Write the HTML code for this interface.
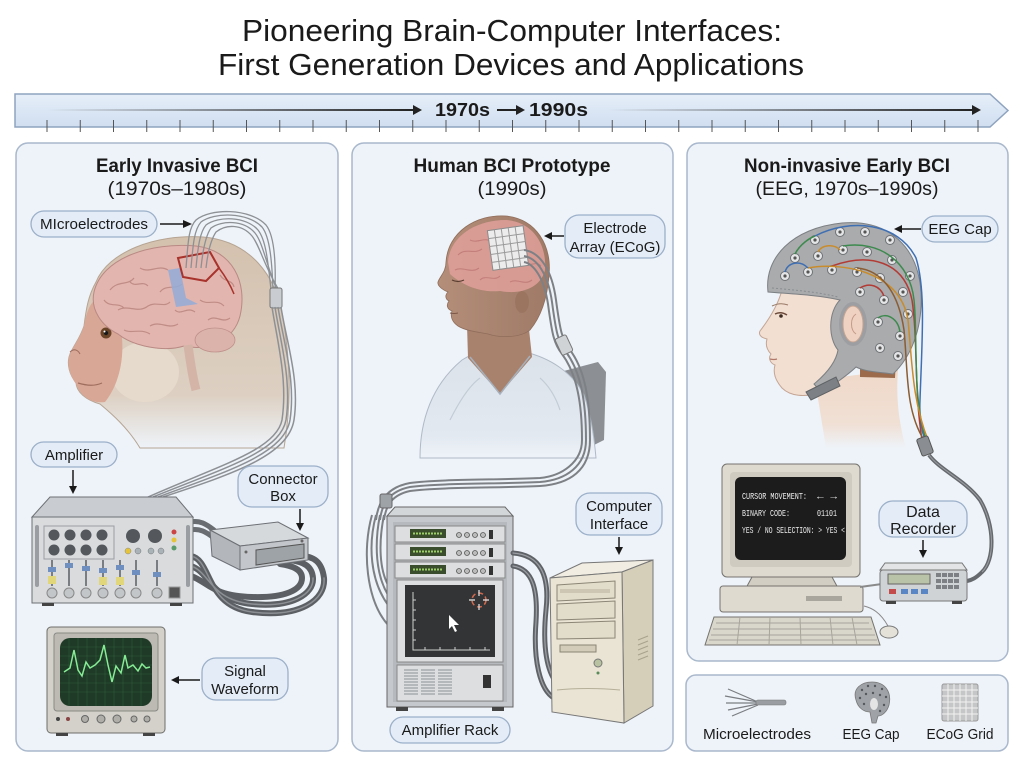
<!DOCTYPE html>
<html><head><meta charset="utf-8"><style>
html,body{margin:0;padding:0;background:#fff;}
svg{display:block;}
text{font-family:"Liberation Sans",Arial,sans-serif;fill:#1a1a1a;}
.lbl{font-size:15px;}
.mono{font-family:"Liberation Mono",monospace;fill:#ececec;font-size:9px;}
</style></head><body>
<svg width="1024" height="765" viewBox="0 0 1024 765" xmlns="http://www.w3.org/2000/svg">
<defs>
<linearGradient id="band" x1="0" y1="0" x2="0" y2="1"><stop offset="0" stop-color="#e6eff9"/><stop offset="1" stop-color="#d0def0"/></linearGradient>
<linearGradient id="fadeL" x1="0" x2="1"><stop offset="0" stop-color="#222" stop-opacity="0"/><stop offset="1" stop-color="#222"/></linearGradient>
<linearGradient id="fur" x1="0" y1="0" x2="0" y2="1"><stop offset="0" stop-color="#d4c1ae"/><stop offset="0.75" stop-color="#ddd0c2"/><stop offset="1" stop-color="#eef3f9"/></linearGradient>
<linearGradient id="gown" x1="0" y1="0" x2="0" y2="1"><stop offset="0" stop-color="#dbe2ea"/><stop offset="0.8" stop-color="#e3e9f0"/><stop offset="1" stop-color="#eef3f9"/></linearGradient>
<linearGradient id="neck3" x1="0" y1="0" x2="0" y2="1"><stop offset="0" stop-color="#efd8c8"/><stop offset="0.7" stop-color="#f0e0d5"/><stop offset="1" stop-color="#eef3f9"/></linearGradient>
<linearGradient id="skin2" x1="0" y1="0" x2="1" y2="0"><stop offset="0" stop-color="#b48e79"/><stop offset="1" stop-color="#9f7a66"/></linearGradient>
</defs>

<rect width="1024" height="765" fill="#ffffff"/>

<!-- Title -->
<text x="512" y="41" text-anchor="middle" font-size="31" textLength="540" lengthAdjust="spacingAndGlyphs">Pioneering Brain-Computer Interfaces:</text>
<text x="511" y="75" text-anchor="middle" font-size="31" textLength="586" lengthAdjust="spacingAndGlyphs">First Generation Devices and Applications</text>

<!-- Timeline band -->
<polygon points="15,94 990,94 1008,110.5 990,127 15,127" fill="url(#band)" stroke="#8ea3bf" stroke-width="1.5"/>
<rect x="47" y="109" width="368" height="2" fill="url(#fadeL)"/>
<polygon points="413,105 422,110 413,115" fill="#222"/>
<rect x="608" y="109" width="366" height="2" fill="url(#fadeL)"/>
<polygon points="972,105 981,110 972,115" fill="#222"/>
<text x="435" y="116" font-size="18" font-weight="bold" textLength="55" lengthAdjust="spacingAndGlyphs">1970s</text>
<rect x="497" y="109" width="20" height="2" fill="#222"/>
<polygon points="516,105 525,110 516,115" fill="#222"/>
<text x="529" y="116" font-size="18" font-weight="bold" textLength="59" lengthAdjust="spacingAndGlyphs">1990s</text>
<path d="M47,120V132M80.25,120V132M113.5,120V132M146.75,120V132M180,120V132M213.25,120V132M246.5,120V132M279.75,120V132M313,120V132M346.25,120V132M379.5,120V132M412.75,120V132M446,120V132M479.25,120V132M512.5,120V132M545.75,120V132M579,120V132M612.25,120V132M645.5,120V132M678.75,120V132M712,120V132M745.25,120V132M778.5,120V132M811.75,120V132M845,120V132M878.25,120V132M911.5,120V132M944.75,120V132M978,120V132" stroke="#555" stroke-width="1"/>

<!-- Panels -->
<rect x="16" y="143" width="322" height="608" rx="12" fill="#eef3f9" stroke="#a9b8cc" stroke-width="1.5"/>
<rect x="352" y="143" width="321" height="608" rx="12" fill="#eef3f9" stroke="#a9b8cc" stroke-width="1.5"/>
<rect x="687" y="143" width="321" height="518" rx="12" fill="#eef3f9" stroke="#a9b8cc" stroke-width="1.5"/>
<rect x="686" y="675" width="322" height="76" rx="10" fill="#eef3f9" stroke="#a9b8cc" stroke-width="1.5"/>

<!-- Panel titles -->
<text x="177" y="172" text-anchor="middle" font-size="19" font-weight="bold" textLength="162" lengthAdjust="spacingAndGlyphs">Early Invasive BCI</text>
<text x="177" y="195" text-anchor="middle" font-size="19" textLength="139" lengthAdjust="spacingAndGlyphs">(1970s–1980s)</text>
<text x="512" y="172" text-anchor="middle" font-size="19" font-weight="bold" textLength="197" lengthAdjust="spacingAndGlyphs">Human BCI Prototype</text>
<text x="512" y="195" text-anchor="middle" font-size="19" textLength="69" lengthAdjust="spacingAndGlyphs">(1990s)</text>
<text x="847" y="172" text-anchor="middle" font-size="19" font-weight="bold" textLength="206" lengthAdjust="spacingAndGlyphs">Non-invasive Early BCI</text>
<text x="847" y="195" text-anchor="middle" font-size="19" textLength="183" lengthAdjust="spacingAndGlyphs">(EEG, 1970s–1990s)</text>

<!-- ============ PANEL 1 ============ -->
<path d="M96,282 C108,252 155,234 203,237 C250,241 276,275 283,318 C290,360 292,400 284,448 L140,448 C128,428 112,414 100,404 C86,400 76,392 76,382 C70,376 66,364 70,354 C74,345 80,338 84,326 C86,310 88,296 96,282 Z" fill="url(#fur)" stroke="#b6a493" stroke-width="1"/>
<ellipse cx="145" cy="372" rx="34" ry="30" fill="#e6dacd"/>
<path d="M96,300 C110,300 122,318 122,338 C124,362 118,386 105,402 C92,404 80,396 76,384 C70,376 66,364 70,354 C74,345 80,338 84,326 C86,314 90,302 96,300 Z" fill="#d9a796"/>
<path d="M78,383 C88,386 95,386 102,383" stroke="#a06e5e" stroke-width="1.2" fill="none"/>
<path d="M70,352 C74,348 78,350 80,354" stroke="#a06e5e" stroke-width="1" fill="none"/>
<circle cx="106" cy="333" r="5.5" fill="#6a4528"/>
<circle cx="106" cy="333" r="2.2" fill="#1a1a1a"/>
<circle cx="104.5" cy="331.5" r="1" fill="#fff"/>
<path d="M94,292 C102,258 150,242 196,246 C232,250 248,282 240,316 C234,340 208,352 184,346 C165,352 134,347 118,334 C102,326 90,310 94,292 Z" fill="#e2b5ae" stroke="#b98984" stroke-width="1"/>
<ellipse cx="215" cy="340" rx="20" ry="12" fill="#dcb3ab" stroke="#bf918b" stroke-width="0.8"/>
<path d="M188,345 C190,360 192,375 196,390" stroke="#d4b4a7" stroke-width="9" fill="none"/>
<path d="M110,290 c8,-10 18,-4 24,-12 M140,268 c10,6 18,-4 28,2 M118,310 c10,-6 20,4 30,-4 c8,-5 16,2 22,-4 M104,300 c6,8 14,2 20,8 M150,326 c10,-6 18,4 28,-2 M200,300 c8,6 16,-2 24,6 M208,320 c8,-6 14,4 22,-2 M160,292 c6,-8 16,-2 22,-8 M124,330 c8,4 16,-2 26,4 M175,310 c6,6 12,-4 20,2 M220,275 c5,8 12,4 14,12 M130,282 c6,6 12,-2 18,4" stroke="#c08c86" fill="none" stroke-width="1.2"/>
<path d="M168,270 L180,268 L186,298 L198,304 L176,307 Z" fill="#93acd9" opacity="0.85"/>
<path d="M178,258 L210,252 L219,268 L206,281 L183,277 Z" fill="#e2b5ae" stroke="#a8322c" stroke-width="2"/>
<path d="M219,268 C225,276 230,284 234,294" stroke="#a8322c" stroke-width="1.5" fill="none"/>
<g stroke="#8d9196" stroke-width="1.3" fill="none">
<path d="M186,268 C188,245 188,228 196,220 C210,208 250,208 266,225 C274,235 276,260 275,290"/>
<path d="M191,268 C193,245 194,230 201,222 C214,212 248,212 262,227 C270,237 272,262 273,290"/>
<path d="M196,268 C198,246 200,232 206,225 C218,216 246,216 258,230 C266,240 268,262 271,290"/>
<path d="M201,268 C203,248 206,235 211,228 C222,220 244,220 255,233 C263,243 266,264 277,290"/>
<path d="M206,268 C208,250 212,238 216,232 C226,224 242,224 252,236 C260,246 264,266 279,290"/>
</g>
<rect x="270" y="288" width="12" height="20" rx="2" fill="#c9ccd0" stroke="#777"/>
<g stroke="#8d9196" stroke-width="1.5" fill="none">
<path d="M272,307 C277,340 288,380 282,420 C276,450 220,465 148,497"/>
<path d="M275,307 C280,340 292,380 286,420 C280,452 224,468 153,497"/>
<path d="M278,307 C283,340 296,380 290,420 C284,454 228,471 158,497"/>
<path d="M281,307 C286,340 300,380 294,420 C288,456 232,474 163,497"/>
</g>

<g fill="none" stroke-linecap="round">
<path d="M190,522 C200,520 206,524 214,530" stroke="#6a6e72" stroke-width="5"/>
<path d="M190,530 C200,528 206,532 214,538" stroke="#6a6e72" stroke-width="5"/>
<path d="M191,556 C212,560 205,606 252,612 C300,618 326,600 324,578 C322,562 314,556 300,556" stroke="#5c6064" stroke-width="6"/>
<path d="M191,566 C210,572 210,600 252,604 C292,608 314,594 313,578 C312,566 304,562 290,560" stroke="#5c6064" stroke-width="6"/>
<path d="M191,576 C208,582 212,596 252,597 C285,598 302,590 302,578 C302,570 294,566 280,564" stroke="#5c6064" stroke-width="6"/>
<path d="M191,556 C212,560 205,606 252,612 C300,618 326,600 324,578" stroke="#8c9095" stroke-width="1.5"/>
<path d="M191,566 C210,572 210,600 252,604 C292,608 314,594 313,578" stroke="#8c9095" stroke-width="1.5"/>
</g>
<polygon points="210,530 278,522 308,538 240,546" fill="#d6d9dc" stroke="#6d7075"/>
<polygon points="210,530 240,546 240,570 212,556" fill="#b3b7bb" stroke="#6d7075"/>
<polygon points="240,546 308,538 308,560 240,570" fill="#c3c7cb" stroke="#6d7075"/>
<polygon points="256,550 304,544 304,558 256,565" fill="#9ea3a8" stroke="#555"/>
<circle cx="246" cy="552" r="1.5" fill="#666"/><circle cx="302" cy="541" r="1.5" fill="#666"/>

<polygon points="50,497 176,497 193,517 32,517" fill="#c9ccd0" stroke="#6d7075"/>
<rect x="32" y="517" width="161" height="86" fill="#d9dbdd" stroke="#6d7075"/>
<rect x="35" y="525" width="4" height="62" rx="2" fill="#9a9ea2"/>
<rect x="186" y="525" width="4" height="62" rx="2" fill="#9a9ea2"/>
<rect x="44" y="526" width="70" height="33" fill="none" stroke="#9a9ea2"/>
<g fill="#54585c"><circle cx="54" cy="535" r="5.5"/><circle cx="70" cy="535" r="5.5"/><circle cx="86" cy="535" r="5.5"/><circle cx="102" cy="535" r="5.5"/><circle cx="54" cy="550" r="5.5"/><circle cx="70" cy="550" r="5.5"/><circle cx="86" cy="550" r="5.5"/><circle cx="102" cy="550" r="5.5"/><circle cx="133" cy="536" r="7"/><circle cx="155" cy="536" r="7"/></g>
<circle cx="174" cy="532" r="2.5" fill="#c44"/><circle cx="174" cy="540" r="2.5" fill="#e5c33a"/><circle cx="174" cy="548" r="2.5" fill="#5a9a6a"/>
<circle cx="128" cy="551" r="3" fill="#e5c33a" stroke="#888" stroke-width="0.5"/><circle cx="138" cy="551" r="3" fill="#a9b3b8" stroke="#777" stroke-width="0.5"/><circle cx="151" cy="551" r="3" fill="#a9b3b8" stroke="#777" stroke-width="0.5"/><circle cx="161" cy="551" r="3" fill="#a9b3b8" stroke="#777" stroke-width="0.5"/>
<g fill="#7a7e82"><rect x="51" y="560" width="2" height="26"/><rect x="68" y="560" width="2" height="26"/><rect x="85" y="560" width="2" height="26"/><rect x="102" y="560" width="2" height="26"/><rect x="119" y="560" width="2" height="26"/><rect x="135" y="560" width="2" height="26"/><rect x="156" y="560" width="2" height="26"/></g>
<g fill="#6f8fc0"><rect x="48" y="567" width="8" height="5"/><rect x="65" y="563" width="8" height="5"/><rect x="82" y="566" width="8" height="5"/><rect x="99" y="568" width="8" height="5"/><rect x="116" y="565" width="8" height="5"/><rect x="132" y="570" width="8" height="5"/><rect x="153" y="572" width="8" height="5"/></g>
<g fill="#e2d67a"><rect x="48" y="576" width="8" height="8"/><rect x="116" y="577" width="8" height="8"/><rect x="99" y="577" width="8" height="8"/></g>
<g fill="#c3c6c9" stroke="#888"><circle cx="52" cy="593" r="5"/><circle cx="69" cy="593" r="5"/><circle cx="86" cy="593" r="5"/><circle cx="103" cy="593" r="5"/><circle cx="120" cy="593" r="5"/><circle cx="136" cy="593" r="5"/><circle cx="157" cy="593" r="5"/></g>
<rect x="169" y="587" width="11" height="11" fill="#555" stroke="#999"/>
<rect x="42" y="603" width="12" height="3" fill="#444"/><rect x="170" y="603" width="12" height="3" fill="#444"/>

<rect x="47" y="627" width="118" height="106" rx="4" fill="#d3d1ca" stroke="#6d6d6a"/>
<rect x="54" y="633" width="104" height="78" rx="3" fill="#bcbab3" stroke="#8a8983"/>
<rect x="60" y="638" width="92" height="68" rx="10" fill="#1f3a27"/>
<path d="M60,647H152M60,656H152M60,665H152M60,674H152M60,683H152M60,692H152M69,638V706M78,638V706M87,638V706M96,638V706M105,638V706M114,638V706M123,638V706M132,638V706M141,638V706" stroke="#2e5a39" stroke-width="0.6"/>
<polyline points="64,672 70,668 74,650 78,670 82,676 86,662 90,668 95,665 100,660 104,645 108,665 112,682 116,666 121,673 125,655 128,668 133,665 138,671 142,664 146,668 150,667" fill="none" stroke="#86ec95" stroke-width="1.5"/>
<circle cx="58" cy="719" r="2" fill="#444"/><circle cx="68" cy="719" r="2" fill="#844"/>
<g fill="#b0aea8" stroke="#666"><circle cx="85" cy="719" r="3.5"/><circle cx="101" cy="719" r="4"/><circle cx="117" cy="719" r="4"/><circle cx="134" cy="719" r="3"/><circle cx="147" cy="719" r="3"/></g>
<rect x="56" y="733" width="12" height="3" fill="#444"/><rect x="143" y="733" width="12" height="3" fill="#444"/>

<!-- ============ PANEL 2 ============ -->
<polygon points="560,372 598,362 606,372 604,440 580,452 565,440" fill="#8c9095"/>
<path d="M420,458 C420,420 432,385 462,360 C472,354 480,350 490,350 L525,352 C550,358 572,372 584,395 C590,412 594,435 596,458 Z" fill="url(#gown)" stroke="#b0bac6"/>
<path d="M467,325 L528,320 L532,357 L500,394 L468,358 Z" fill="#a9826d"/>
<path d="M470,357 L500,394 L530,356" fill="none" stroke="#a6b1bd" stroke-width="1.5"/>
<path d="M450,420 C460,400 470,385 480,378 M560,410 C555,395 548,385 540,378" stroke="#c3ccd6" fill="none" stroke-width="1.2"/>
<path d="M446,262 C448,232 476,214 506,216 C536,219 552,245 549,276 C547,300 540,318 530,330 C520,338 500,338 488,334 C478,332 466,331 458,326 C452,322 450,316 452,311 C447,309 446,305 449,301 C445,299 445,295 448,292 C443,290 437,286 438,282 C440,276 446,272 446,262 Z" fill="url(#skin2)" stroke="#8f6d5b" stroke-width="0.8"/>
<ellipse cx="522" cy="302" rx="7" ry="11" fill="#9c7561"/>
<path d="M448,262 C450,236 476,220 506,220 C534,222 547,246 545,270 C541,288 520,295 500,291 C480,293 462,285 450,274 Z" fill="#e0a09b" opacity="0.85"/>
<path d="M458,255 c8,-8 16,0 24,-6 M470,240 c8,4 14,-4 22,2 M455,270 c8,-4 16,4 24,-2 M480,280 c6,-6 14,2 20,-4 M510,282 c8,-4 14,4 22,-2 M525,262 c6,6 10,-2 16,4 M495,262 c6,-6 12,2 18,-4" stroke="#c37f7b" fill="none" stroke-width="1.1"/>
<path d="M452,280 q6,3 12,0" stroke="#5a3d30" fill="none" stroke-width="1.2"/>
<path d="M450,313 q4,1 8,0" stroke="#7d5848" fill="none" stroke-width="1"/>
<g transform="rotate(-8 508 248)">
<rect x="490" y="228" width="36" height="40" fill="#ececec" stroke="#8a8a8a"/>
<path d="M497,228V268M504,228V268M511,228V268M518,228V268M490,236H526M490,244H526M490,252H526M490,260H526" stroke="#9a9a9a" stroke-width="1"/>
</g>
<g stroke="#7d8186" stroke-width="2" fill="none">
<path d="M524,250 C540,252 552,270 556,300 C560,330 562,340 570,350 C585,370 590,400 590,440 C590,470 570,484 540,486 C500,488 440,487 410,491 C392,495 386,505 384,520"/>
<path d="M524,256 C537,258 548,274 552,302 C556,332 558,342 566,352 C581,372 586,402 586,440 C586,466 566,480 540,482 C500,484 440,483 410,487 C390,491 382,503 380,520"/>
<path d="M524,262 C534,264 544,278 548,304 C552,334 554,344 562,354 C577,374 582,404 582,440 C582,462 562,476 540,478 C500,480 440,479 410,483 C388,487 378,501 376,520"/>
</g>
<rect x="558" y="336" width="12" height="18" rx="2" fill="#d0d3d6" stroke="#777" transform="rotate(-25 564 345)"/>
<rect x="380" y="494" width="12" height="14" rx="2" fill="#9ea3a8" stroke="#666"/>
<g stroke="#7d8186" stroke-width="2" fill="none">
<path d="M376,515 C368,545 370,580 388,605"/>
<path d="M380,515 C374,545 376,575 388,595"/>
<path d="M384,515 C378,545 380,570 388,585"/>
<path d="M372,515 C362,550 366,600 388,625"/>
</g>
<polygon points="395,507 505,507 513,516 387,516" fill="#d3d6d9" stroke="#666"/>
<rect x="387" y="516" width="126" height="191" fill="#c5c8cc" stroke="#666"/>
<rect x="393" y="522" width="114" height="180" fill="#b6b9bd"/>
<g>
<rect x="395" y="526" width="110" height="16" fill="#dcdee0" stroke="#888"/><rect x="410" y="529" width="36" height="9" fill="#3a4d2c"/>
<rect x="395" y="544" width="110" height="16" fill="#dcdee0" stroke="#888"/><rect x="410" y="547" width="36" height="9" fill="#3a4d2c"/>
<rect x="395" y="562" width="110" height="16" fill="#dcdee0" stroke="#888"/><rect x="410" y="565" width="36" height="9" fill="#3a4d2c"/>
<path d="M413,533.5H443M413,551.5H443M413,569.5H443" stroke="#9ccf6a" stroke-width="2" stroke-dasharray="2 1"/>
<g fill="#bbb" stroke="#555" stroke-width="0.8"><circle cx="459" cy="535" r="2.5"/><circle cx="467" cy="535" r="2.5"/><circle cx="475" cy="535" r="2.5"/><circle cx="483" cy="535" r="2.5"/><circle cx="459" cy="553" r="2.5"/><circle cx="467" cy="553" r="2.5"/><circle cx="475" cy="553" r="2.5"/><circle cx="483" cy="553" r="2.5"/><circle cx="459" cy="571" r="2.5"/><circle cx="467" cy="571" r="2.5"/><circle cx="475" cy="571" r="2.5"/><circle cx="483" cy="571" r="2.5"/></g>
<rect x="489" y="530" width="4" height="9" fill="#333"/><rect x="489" y="548" width="4" height="9" fill="#333"/><rect x="489" y="566" width="4" height="9" fill="#333"/>
</g>
<rect x="397" y="580" width="106" height="82" fill="#dcdee0" stroke="#888"/>
<rect x="405" y="585" width="90" height="72" fill="#323436"/>
<path d="M413,592V650H490" stroke="#cfcfcf" fill="none"/>
<path d="M413,600h3M413,610h3M413,620h3M413,630h3M413,640h3M425,650v-3M440,650v-3M455,650v-3M470,650v-3M485,650v-3" stroke="#cfcfcf"/>
<circle cx="479" cy="600" r="7" fill="none" stroke="#d3694e" stroke-width="1.5" stroke-dasharray="5 3"/>
<path d="M479,590V596M479,604V610M469,600H475M483,600H489" stroke="#e8e8e8" stroke-width="1.2"/>
<polygon points="449,615 449,629 452,626 455,632 457,631 454,625 459,625" fill="#fff"/>
<rect x="397" y="665" width="106" height="36" fill="#dcdee0" stroke="#888"/>
<path d="M404,670H418M404,673H418M404,676H418M404,679H418M404,682H418M404,685H418M404,688H418M404,691H418M404,694H418M421,670H435M421,673H435M421,676H435M421,679H435M421,682H435M421,685H435M421,688H435M421,691H435M421,694H435M438,670H452M438,673H452M438,676H452M438,679H452M438,682H452M438,685H452M438,688H452M438,691H452M438,694H452" stroke="#8e9296" stroke-width="1"/>
<rect x="483" y="675" width="8" height="13" fill="#333"/>
<rect x="396" y="707" width="12" height="4" fill="#444"/><rect x="492" y="707" width="12" height="4" fill="#444"/>
<g fill="none" stroke-linecap="round">
<path d="M513,553 C540,555 550,575 546,610 C542,650 548,672 556,682" stroke="#5f6367" stroke-width="5"/>
<path d="M513,566 C533,569 538,590 536,622 C533,660 540,690 554,698" stroke="#5f6367" stroke-width="5"/>
<path d="M513,553 C540,555 550,575 546,610 C542,650 548,672 556,682" stroke="#9a9ea3" stroke-width="1.3"/>
<path d="M513,566 C533,569 538,590 536,622 C533,660 540,690 554,698" stroke="#9a9ea3" stroke-width="1.3"/>
</g>
<polygon points="550,578 582,563 653,560 622,572" fill="#f1ede2" stroke="#777"/>
<polygon points="622,572 653,560 653,706 624,723" fill="#d5ceb9" stroke="#777"/>
<polygon points="550,578 622,572 624,723 552,712" fill="#e9e4d4" stroke="#777"/>
<polygon points="557,585 615,581 615,598 557,601" fill="#e2dcca" stroke="#8a8575"/>
<polygon points="557,604 615,601 615,618 557,620" fill="#e2dcca" stroke="#8a8575"/>
<polygon points="557,623 615,621 615,638 557,639" fill="#e2dcca" stroke="#8a8575"/>
<rect x="560" y="589" width="50" height="4" fill="#cdc6b2"/>
<rect x="560" y="645" width="36" height="7" fill="#d3ccb8" stroke="#8a8575"/>
<circle cx="598" cy="663" r="4" fill="#b8c2a0" stroke="#777"/><circle cx="598" cy="673" r="1.5" fill="#5a8a5a"/>
<path d="M557,690 C575,688 600,688 620,690" stroke="#b5ae98" fill="none"/>
<path d="M638,640l10,-4M638,645l10,-4M638,650l10,-4M638,655l10,-4M638,660l10,-4" stroke="#a8a18b"/>

<!-- ============ PANEL 3 ============ -->
<path d="M815,380 L826,448 L906,448 C898,420 896,395 898,370 Z" fill="url(#neck3)"/>
<path d="M860,345 L897,338 L895,378 L860,377 Z" fill="#9b6b4c"/>
<path d="M782,290 C778,305 770,318 760,331 C758,335 762,338 767,339 C765,346 768,351 771,354 C768,358 770,363 775,365 C773,372 775,380 782,388 C790,396 805,398 820,392 L835,380 L850,300 Z" fill="#f2dfd2" stroke="#c4a594"/>
<path d="M775,314 q6,-3 12,1" stroke="#6b4a3a" stroke-width="1.5" fill="none"/>
<circle cx="781" cy="316" r="1.8" fill="#3a2a20"/>
<path d="M772,306 q8,-4 16,-1" stroke="#9a7a66" fill="none"/>
<path d="M770,359 q4,1 7,0" stroke="#b07868" fill="none" stroke-width="1.2"/>
<path d="M768,292 C764,258 792,228 842,223 C890,219 918,248 921,292 C923,330 910,358 893,374 C878,372 866,372 856,367 C846,377 830,386 823,394 L814,384 C826,374 836,362 838,350 C828,338 828,312 840,300 C818,295 792,294 768,292 Z" fill="#a9abad" stroke="#7c7f82"/>
<path d="M772,288 C795,290 818,292 838,297" stroke="#8a8d90" stroke-dasharray="2 2" fill="none"/>
<ellipse cx="853" cy="324" rx="14" ry="22" fill="#9c9ea1"/>
<ellipse cx="853" cy="324" rx="10" ry="18" fill="#f0d2c2" stroke="#c4a594"/>
<path d="M856,314 C850,318 850,330 856,334" stroke="#c49a88" fill="none"/>
<polygon points="806,392 836,377 840,386 811,400" fill="#7d8084" stroke="#5f6265"/>
<g fill="#e4e5e6" stroke="#6f7275" stroke-width="1">
<circle cx="815" cy="240" r="4.5"/><circle cx="840" cy="232" r="4.5"/><circle cx="865" cy="232" r="4.5"/><circle cx="890" cy="240" r="4.5"/>
<circle cx="795" cy="258" r="4.5"/><circle cx="818" cy="256" r="4.5"/><circle cx="843" cy="250" r="4.5"/><circle cx="867" cy="252" r="4.5"/><circle cx="892" cy="260" r="4.5"/><circle cx="910" cy="276" r="4.5"/>
<circle cx="785" cy="276" r="4.5"/><circle cx="808" cy="272" r="4.5"/><circle cx="832" cy="270" r="4.5"/><circle cx="857" cy="272" r="4.5"/><circle cx="880" cy="278" r="4.5"/><circle cx="903" cy="292" r="4.5"/>
<circle cx="860" cy="292" r="4.5"/><circle cx="884" cy="300" r="4.5"/><circle cx="908" cy="314" r="4.5"/>
<circle cx="878" cy="322" r="4.5"/><circle cx="900" cy="336" r="4.5"/><circle cx="880" cy="348" r="4.5"/><circle cx="898" cy="356" r="4.5"/>
</g>
<g fill="#555"><circle cx="815" cy="240" r="1.6"/><circle cx="840" cy="232" r="1.6"/><circle cx="865" cy="232" r="1.6"/><circle cx="890" cy="240" r="1.6"/><circle cx="795" cy="258" r="1.6"/><circle cx="818" cy="256" r="1.6"/><circle cx="843" cy="250" r="1.6"/><circle cx="867" cy="252" r="1.6"/><circle cx="892" cy="260" r="1.6"/><circle cx="910" cy="276" r="1.6"/><circle cx="785" cy="276" r="1.6"/><circle cx="808" cy="272" r="1.6"/><circle cx="832" cy="270" r="1.6"/><circle cx="857" cy="272" r="1.6"/><circle cx="880" cy="278" r="1.6"/><circle cx="903" cy="292" r="1.6"/><circle cx="860" cy="292" r="1.6"/><circle cx="884" cy="300" r="1.6"/><circle cx="908" cy="314" r="1.6"/><circle cx="878" cy="322" r="1.6"/><circle cx="900" cy="336" r="1.6"/><circle cx="880" cy="348" r="1.6"/><circle cx="898" cy="356" r="1.6"/></g>
<g fill="none" stroke-width="1.5">
<path d="M815,236 C850,218 898,222 916,258 C926,290 922,340 920,400 C919,420 922,432 925,440" stroke="#3f6fb3"/>
<path d="M832,266 C870,252 904,262 912,300 C918,340 914,390 922,440" stroke="#b23b35"/>
<path d="M843,246 C880,240 910,262 914,300 C918,340 912,395 926,440" stroke="#3d8a4e"/>
<path d="M808,268 C840,262 900,270 908,320 C912,360 912,400 928,440" stroke="#c98c2c"/>
<path d="M857,268 C880,270 898,290 904,330 C908,370 905,410 924,440" stroke="#8a5d33"/>
<path d="M785,272 C788,262 800,260 808,268" stroke="#3f6fb3"/>
<path d="M818,252 C822,244 835,244 840,250" stroke="#c98c2c"/>
<path d="M860,288 C870,282 880,286 884,296" stroke="#b23b35"/>
<path d="M878,318 C886,312 898,318 900,332" stroke="#3d8a4e"/>
<path d="M795,254 C800,244 810,238 815,236" stroke="#3d8a4e"/>
</g>
<rect x="919" y="437" width="12" height="18" rx="2" fill="#8a8e92" stroke="#555" transform="rotate(-20 925 446)"/>
<path d="M929,455 C940,470 965,480 980,500 C995,525 995,560 982,572 C976,578 972,580 967,581" fill="none" stroke="#666a6e" stroke-width="4"/>
<path d="M929,455 C940,470 965,480 980,500 C995,525 995,560 982,572" fill="none" stroke="#9a9ea2" stroke-width="1"/>

<!-- CRT computer -->
<rect x="722" y="464" width="138" height="113" rx="5" fill="#dedad0" stroke="#75736e"/>
<rect x="730" y="472" width="122" height="95" rx="4" fill="#cfcbc0"/>
<rect x="735" y="477" width="111" height="83" rx="6" fill="#1c1c1c"/>
<text class="mono" x="742" y="499" textLength="65" lengthAdjust="spacingAndGlyphs">CURSOR MOVEMENT:</text>
<text class="mono" x="817" y="499" textLength="20" lengthAdjust="spacingAndGlyphs">← →</text>
<text class="mono" x="742" y="516" textLength="48" lengthAdjust="spacingAndGlyphs">BINARY CODE:</text>
<text class="mono" x="817" y="516" textLength="20" lengthAdjust="spacingAndGlyphs">01101</text>
<text class="mono" x="742" y="533" textLength="103" lengthAdjust="spacingAndGlyphs">YES / NO SELECTION: &gt; YES &lt;</text>
<polygon points="752,577 832,577 838,588 746,588" fill="#d2cec3" stroke="#75736e"/>
<rect x="720" y="586" width="143" height="26" rx="3" fill="#dedad0" stroke="#75736e"/>
<rect x="806" y="596" width="36" height="5" fill="#a9a69d"/>
<path d="M860,587 L882,584" stroke="#8a8a8a" stroke-width="2"/>
<polygon points="714,617 871,617 880,645 705,645" fill="#d9d6cc" stroke="#75736e"/>
<path d="M716,623H869M713,629H872M711,635H875M709,640H877M740,617L737,645M770,617L769,645M800,617L801,645M830,617L833,645M852,617L857,645" stroke="#a8a59c" stroke-width="1"/>
<path d="M888,626 C880,612 872,608 864,606" stroke="#888" fill="none"/>
<ellipse cx="889" cy="632" rx="9" ry="6" fill="#e4e1d8" stroke="#777"/>

<polygon points="885,563 962,563 967,570 880,570" fill="#e2e4e6" stroke="#777"/>
<rect x="880" y="570" width="87" height="31" rx="3" fill="#d0d3d6" stroke="#777"/>
<rect x="888" y="574" width="42" height="10" fill="#b8c3a8" stroke="#666"/>
<g fill="#7d8186"><rect x="936" y="573" width="5" height="4"/><rect x="942" y="573" width="5" height="4"/><rect x="948" y="573" width="5" height="4"/><rect x="954" y="573" width="5" height="4"/><rect x="936" y="579" width="5" height="4"/><rect x="942" y="579" width="5" height="4"/><rect x="948" y="579" width="5" height="4"/><rect x="954" y="579" width="5" height="4"/><rect x="936" y="585" width="5" height="4"/><rect x="942" y="585" width="5" height="4"/><rect x="948" y="585" width="5" height="4"/><rect x="954" y="585" width="5" height="4"/></g>
<rect x="889" y="589" width="7" height="5" fill="#c44b4b"/><rect x="901" y="589" width="7" height="5" fill="#5a86c5"/><rect x="911" y="589" width="7" height="5" fill="#5a86c5"/><rect x="921" y="589" width="7" height="5" fill="#5a86c5"/>
<rect x="886" y="601" width="10" height="3" fill="#444"/><rect x="952" y="601" width="10" height="3" fill="#444"/>

<!-- ============ LABELS ============ -->
<g fill="#e3ecf7" stroke="#9cb0c9" stroke-width="1.3">
<rect x="31" y="211" width="126" height="26" rx="13"/>
<rect x="31" y="442" width="86" height="25" rx="12.5"/>
<rect x="238" y="466" width="90" height="41" rx="14"/>
<rect x="202" y="658" width="86" height="42" rx="14"/>
<rect x="565" y="215" width="100" height="43" rx="14"/>
<rect x="576" y="493" width="86" height="42" rx="14"/>
<rect x="390" y="717" width="120" height="26" rx="13"/>
<rect x="922" y="216" width="76" height="26" rx="13"/>
<rect x="879" y="501" width="88" height="36" rx="14"/>
</g>
<text class="lbl" x="94" y="229" text-anchor="middle" textLength="108" lengthAdjust="spacingAndGlyphs">MIcroelectrodes</text>
<text class="lbl" x="74" y="460" text-anchor="middle">Amplifier</text>
<text class="lbl" x="283" y="484" text-anchor="middle">Connector</text>
<text class="lbl" x="283" y="501" text-anchor="middle">Box</text>
<text class="lbl" x="245" y="676" text-anchor="middle">Signal</text>
<text class="lbl" x="245" y="694" text-anchor="middle">Waveform</text>
<text class="lbl" x="615" y="233" text-anchor="middle">Electrode</text>
<text class="lbl" x="615" y="252" text-anchor="middle">Array (ECoG)</text>
<text class="lbl" x="619" y="511" text-anchor="middle">Computer</text>
<text class="lbl" x="619" y="529" text-anchor="middle">Interface</text>
<text class="lbl" x="450" y="735" text-anchor="middle">Amplifier Rack</text>
<text class="lbl" x="960" y="234" text-anchor="middle">EEG Cap</text>
<text x="923" y="517" text-anchor="middle" font-size="16">Data</text>
<text x="923" y="534" text-anchor="middle" font-size="16">Recorder</text>

<g stroke="#1a1a1a" stroke-width="1.5" fill="none">
<path d="M160,224H184"/><path d="M73,470V487"/><path d="M300,509V524"/><path d="M200,680H178"/>
<path d="M564,236H551"/><path d="M619,537V548"/><path d="M921,229H901"/><path d="M923,540V551"/>
</g>
<g fill="#1a1a1a">
<polygon points="183,220 192,224 183,228"/>
<polygon points="69,486 73,494 77,486"/>
<polygon points="296,523 300,531 304,523"/>
<polygon points="179,676 171,680 179,684"/>
<polygon points="552,232 544,236 552,240"/>
<polygon points="615,547 619,555 623,547"/>
<polygon points="902,225 894,229 902,233"/>
<polygon points="919,550 923,558 927,550"/>
</g>

<!-- ============ LEGEND ============ -->
<g stroke="#7a7e82" stroke-width="1.2" fill="none">
<path d="M728,689 L758,702"/><path d="M725,696 L758,702"/><path d="M726,703 L758,703"/><path d="M728,710 L758,704"/><path d="M732,716 L758,705"/>
</g>
<rect x="756" y="700" width="30" height="5" rx="2" fill="#9a9ea2" stroke="#777" stroke-width="0.6"/>
<path d="M856,700 C852,688 862,682 872,682 C885,682 892,692 889,705 C887,712 882,716 878,716 L876,723 L872,723 L870,712 C864,712 858,708 856,700 Z" fill="#9fa3a7" stroke="#777" stroke-width="0.8"/>
<ellipse cx="874" cy="704" rx="4" ry="6" fill="#e4e4e4"/>
<g fill="#55595d"><circle cx="862" cy="690" r="1.2"/><circle cx="868" cy="686" r="1.2"/><circle cx="875" cy="686" r="1.2"/><circle cx="882" cy="689" r="1.2"/><circle cx="860" cy="698" r="1.2"/><circle cx="866" cy="694" r="1.2"/><circle cx="873" cy="693" r="1.2"/><circle cx="880" cy="695" r="1.2"/><circle cx="886" cy="697" r="1.2"/><circle cx="864" cy="704" r="1.2"/><circle cx="884" cy="705" r="1.2"/><circle cx="880" cy="711" r="1.2"/></g>
<rect x="942" y="684" width="36" height="37" rx="2" fill="#c5c6c8" stroke="#999"/>
<path d="M948,684V721M954,684V721M960,684V721M966,684V721M972,684V721M942,690H978M942,696H978M942,702H978M942,708H978M942,714H978" stroke="#f2f2f2" stroke-width="1"/>
<text x="757" y="739" text-anchor="middle" font-size="15" textLength="108" lengthAdjust="spacingAndGlyphs">Microelectrodes</text>
<text x="871" y="739" text-anchor="middle" font-size="15" textLength="57" lengthAdjust="spacingAndGlyphs">EEG Cap</text>
<text x="960" y="739" text-anchor="middle" font-size="15" textLength="67" lengthAdjust="spacingAndGlyphs">ECoG Grid</text>
</svg>
</body></html>
